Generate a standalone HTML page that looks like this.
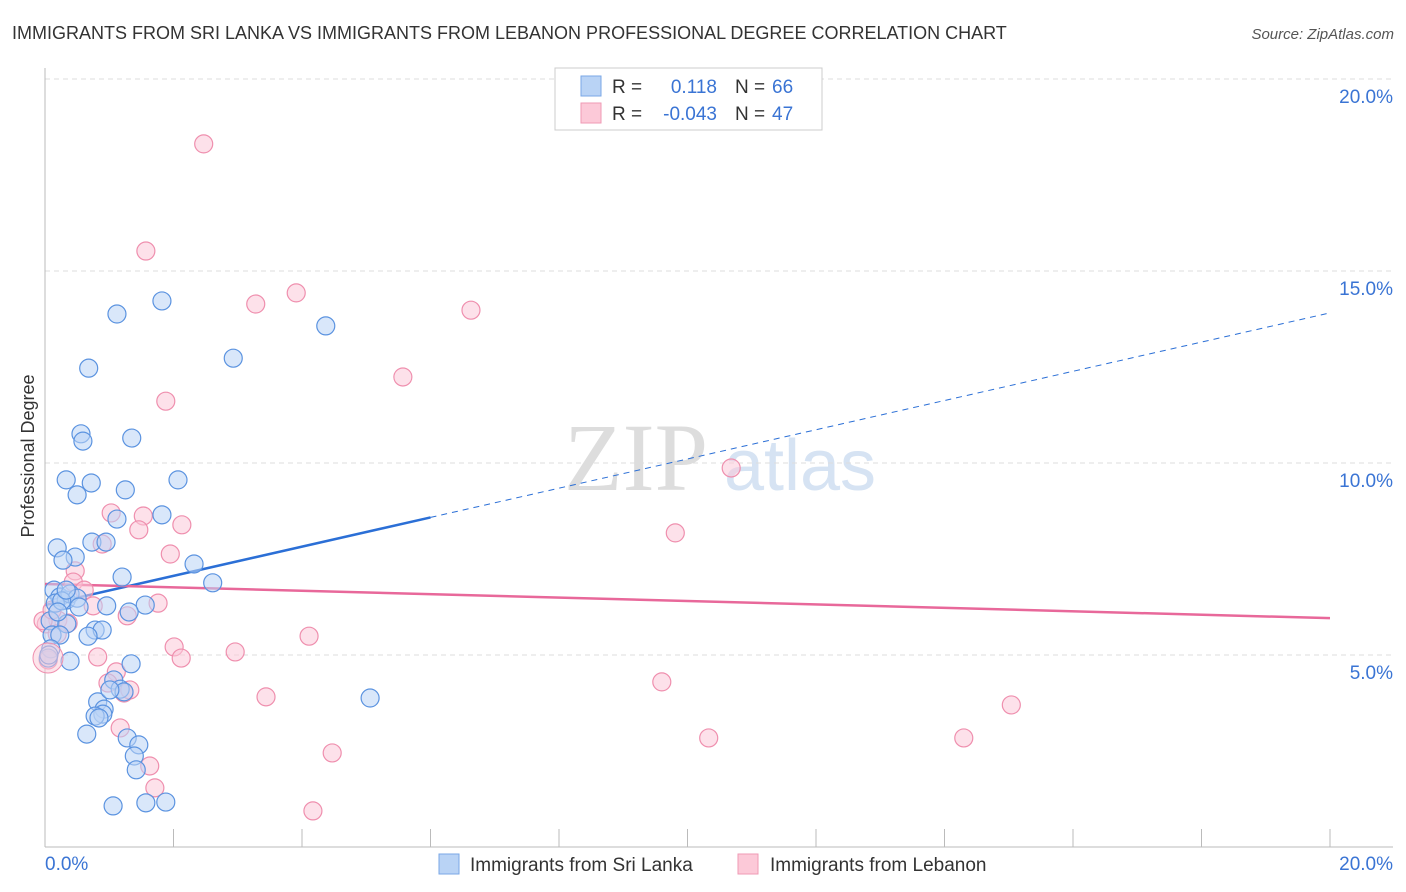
<!DOCTYPE html>
<html><head><meta charset="utf-8"><style>
body{margin:0;background:#fff;font-family:"Liberation Sans",sans-serif;}
svg{display:block}
</style></head><body>
<svg id="chart" width="1406" height="892" font-family="Liberation Sans, sans-serif">
<text x="12" y="39" font-size="18" fill="#333">IMMIGRANTS FROM SRI LANKA VS IMMIGRANTS FROM LEBANON PROFESSIONAL DEGREE CORRELATION CHART</text>
<text x="1394" y="39" font-size="15" fill="#555" font-style="italic" text-anchor="end">Source: ZipAtlas.com</text>
<text x="34" y="456" font-size="18" fill="#333" transform="rotate(-90 34 456)" text-anchor="middle">Professional Degree</text>
<g>
<text x="636" y="490" font-size="96" fill="#ddd" font-family="Liberation Serif, serif" text-anchor="middle">ZIP</text>
<text x="800" y="490" font-size="72" fill="#d6e3f3" text-anchor="middle">atlas</text>
</g>
<g id="grid"></g><g id="axes"></g><g id="lines"></g><g id="pts"></g>
<g>
<rect x="555" y="68" width="267" height="62" fill="#fff" stroke="#ccc"/>
<rect x="581" y="76" width="20" height="20" fill="#b9d3f5" stroke="#7aa7e6"/>
<rect x="581" y="103" width="20" height="20" fill="#fcc9d8" stroke="#ef9ab4"/>
<text x="612" y="93" font-size="19" fill="#333">R = </text><text x="717" y="93" font-size="19" fill="#3a74d4" text-anchor="end">0.118</text>
<text x="735" y="93" font-size="19" fill="#333">N = </text><text x="772" y="93" font-size="19" fill="#3a74d4">66</text>
<text x="612" y="120" font-size="19" fill="#333">R = </text><text x="717" y="120" font-size="19" fill="#3a74d4" text-anchor="end">-0.043</text>
<text x="735" y="120" font-size="19" fill="#333">N = </text><text x="772" y="120" font-size="19" fill="#3a74d4">47</text>
</g>
<g>
<rect x="439" y="854" width="20" height="20" fill="#b9d3f5" stroke="#7aa7e6"/>
<text x="470" y="871" font-size="19" fill="#333">Immigrants from Sri Lanka</text>
<rect x="738" y="854" width="20" height="20" fill="#fcc9d8" stroke="#ef9ab4"/>
<text x="770" y="871" font-size="19" fill="#333">Immigrants from Lebanon</text>
</g>
</svg>
<script>
const yTicks=[5,10,15,20];
const yTickLabels=["5.0%","10.0%","15.0%","20.0%"];
const xTicks=[0,2,4,6,8,10,12,14,16,18,20];
const blueX=[5.6,6.3,7.4,7.0,6.9,6.4,6.6,6.8,7.0,7.6,5.5,7.9,5.6,5.8,4.6,9.4,9.3,10.6,10.4,10.6,9.5,9.4,9.1,9.2,8.5,8.5,7.8,7.8,7.6,7.4,6.4,7.7,6.9,6.6,6.4,6.8,6.4,6.3,6.1,6.2,5.7,5.3,5.3,5.3,5.6,5.8,4.4,4.9,4.8,4.7,5.4,4.5,4.4,4.1,3.8,3.6,3.4,3.3,2.8,2.9,2.8,2.6,3.1,1.8,1.2,1.2,1.2,3.8];
const blueXpx=[];
const bx=[117,162,89,233,326,81,83,132,66,91,178,77,125,117,162,92,106,57,75,63,194,122,213,54,60,66,70,77,55,62,79,107,145,129,50,67,95,102,52,60,88,51,70,131,48,114,120,124,98,104,103,95,99,87,127,139,134,136,113,146,166,370,49,66,58,110];
const by=[314,301,368,358,326,434,441,438,480,483,480,495,490,519,515,542,542,548,557,560,564,577,583,590,597,600,594,598,603,601,607,606,605,612,621,624,630,630,635,635,636,649,661,664,658,680,689,692,702,709,714,716,718,734,738,745,756,770,806,803,802,698,655,590,612,690];
// convert reference readings to data values
const toX=p=>+((p-45)/1285*20).toFixed(2), toY=p=>+((847-p)/192*5).toFixed(2);
const sriLankaX=bx.map(toX), sriLankaY=by.map(toY);
const px=[204,146,256,296,471,403,166,731,675,111,143,182,139,170,102,75,73,84,93,158,127,46,58,68,309,174,235,98,181,116,108,124,266,662,1011,709,964,120,150,155,332,313,48,43,52,57,130];
const py=[144,251,304,293,310,377,401,468,533,513,516,525,530,554,544,571,582,590,606,603,616,624,620,623,636,647,652,657,658,672,683,693,697,682,705,738,738,728,766,788,753,811,660,621,610,634,690];
const lebanonX=px.map(toX), lebanonY=py.map(toY);
const blueTrend=[6.30,13.91], blueSolidEnd=6.0;
const pinkTrend=[6.85,5.96];
const X=v=>45+v/20*1285, Y=v=>847-v/5*192;
const NS="http://www.w3.org/2000/svg";
function mk(t,a,p){const e=document.createElementNS(NS,t);for(const k in a)e.setAttribute(k,a[k]);p.appendChild(e);return e;}
const grid=document.getElementById('grid'),axes=document.getElementById('axes'),lines=document.getElementById('lines'),pts=document.getElementById('pts');
yTicks.forEach((t,i)=>{
 const g=mk('line',{x1:45,x2:1393,y1:Y(t),y2:Y(t),stroke:'#ddd','stroke-dasharray':'5,4'},grid);
 
 
 const l=mk('text',{x:1393,y:Y(t)+24,'font-size':19,fill:'#3a74d4','text-anchor':'end'},axes);
 l.textContent=yTickLabels[i];
 
 
});
const g0=mk('line',{x1:45,x2:1393,y1:79,y2:79,stroke:'#ddd','stroke-dasharray':'5,4'},grid);


const ya=mk('line',{x1:45,x2:45,y1:68,y2:847,stroke:'#bbb'},axes);


const xa=mk('line',{x1:45,x2:1393,y1:847,y2:847,stroke:'#bbb'},axes);


xTicks.forEach(t=>{
 const l=mk('line',{x1:X(t),x2:X(t),y1:829,y2:847,stroke:'#bbb'},axes);
 
 
});
const xl0=mk('text',{x:45,y:870,'font-size':19,fill:'#3a74d4'},axes);xl0.textContent='0.0%';


const xl1=mk('text',{x:1393,y:870,'font-size':19,fill:'#3a74d4','text-anchor':'end'},axes);xl1.textContent='20.0%';


function drawPts(xs,ys,fill,stroke,name){
 xs.forEach((x,i)=>{
  const c=mk('circle',{cx:X(x),cy:Y(ys[i]),r:9,fill:fill,'fill-opacity':0.55,stroke:stroke,'stroke-width':1.2},pts);
  
  
 });
}
drawPts(lebanonX,lebanonY,'#fcc9d8','#ef8fae','lebanon-point');
drawPts(sriLankaX,sriLankaY,'#b9d3f5','#5b93e0','sri-lanka-point');
const bc=mk('circle',{cx:48,cy:658,r:15,fill:'#fcc9d8','fill-opacity':0.5,stroke:'#ef8fae'},pts);


const bAt=x=>blueTrend[0]+(blueTrend[1]-blueTrend[0])*x/20;
const bs=mk('line',{x1:X(0),y1:Y(bAt(0)),x2:X(blueSolidEnd),y2:Y(bAt(blueSolidEnd)),stroke:'#2b6fd6','stroke-width':2.5},lines);


const bd=mk('line',{x1:X(blueSolidEnd),y1:Y(bAt(blueSolidEnd)),x2:X(20),y2:Y(bAt(20)),stroke:'#2b6fd6','stroke-width':1,'stroke-dasharray':'6,5'},lines);


const pl=mk('line',{x1:X(0),y1:Y(pinkTrend[0]),x2:X(20),y2:Y(pinkTrend[1]),stroke:'#e8689a','stroke-width':2.5},lines);


</script>
</body></html>
